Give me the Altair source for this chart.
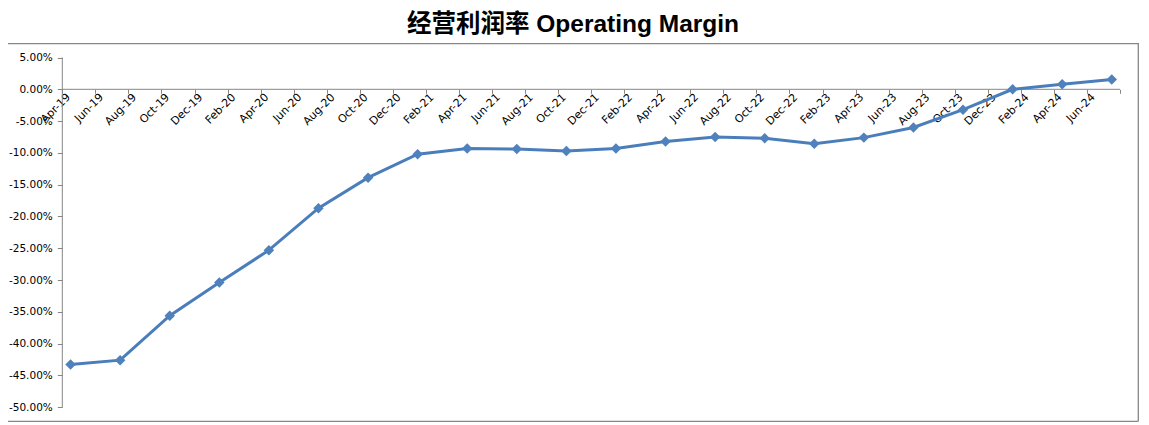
import json
import altair as alt
import pandas as pd

# ---------------- data ----------------
title_text = "经营利润率 Operating Margin"

periods = ["2019-04", "2019-07", "2019-10", "2020-01", "2020-04", "2020-07",
           "2020-10", "2021-01", "2021-04", "2021-07", "2021-10", "2022-01",
           "2022-04", "2022-07", "2022-10", "2023-01", "2023-04", "2023-07",
           "2023-10", "2024-01", "2024-04", "2024-07"]

margin_pct = [-43.3, -42.6, -35.6, -30.4, -25.3, -18.7,
              -13.9, -10.2, -9.3, -9.4, -9.7, -9.3,
              -8.2, -7.5, -7.7, -8.55, -7.6, -6.0,
              -3.2, 0.0, 0.8, 1.55]

tick_labels = ["Apr-19", "Jun-19", "Aug-19", "Oct-19", "Dec-19", "Feb-20",
               "Apr-20", "Jun-20", "Aug-20", "Oct-20", "Dec-20", "Feb-21",
               "Apr-21", "Jun-21", "Aug-21", "Oct-21", "Dec-21", "Feb-22",
               "Apr-22", "Jun-22", "Aug-22", "Oct-22", "Dec-22", "Feb-23",
               "Apr-23", "Jun-23", "Aug-23", "Oct-23", "Dec-23", "Feb-24",
               "Apr-24", "Jun-24", ""]

y_ticks = [5, 0, -5, -10, -15, -20, -25, -30, -35, -40, -45, -50]

# month index relative to Apr-2019, points sit in the middle of their month
def month_index(p):
    y, m = p.split("-")
    return (int(y) - 2019) * 12 + (int(m) - 4) + 0.5

df = pd.DataFrame({
    "period": periods,
    "m": [month_index(p) for p in periods],
    "margin": margin_pct,
})

# ---------------- layout ----------------
PAD_L = 3
W, H = 1128, 379
px_per_month = 16.527
x0 = 62.3 - 8 - PAD_L          # pixel of Apr-19 tick inside the view
px_per_pct = 6.358
y0 = 46.3                      # pixel of 0% inside the view

x_dom = [-x0 / px_per_month, (W - x0) / px_per_month]
y_dom = [-(H - y0) / px_per_pct, y0 / px_per_pct]

GRAY = "#868686"
LBL_FONT = "DejaVu Sans"

xs = alt.Scale(domain=x_dom, nice=False, zero=False)
ys = alt.Scale(domain=y_dom, nice=False, zero=False)

label_js = json.dumps(tick_labels)
x_axis = alt.Axis(
    orient="bottom", offset=-(H - y0), values=list(range(0, 65, 2)),
    labelExpr=f"{label_js}[round(datum.value/2)] || ''",
    labelAngle=-45, labelAlign="right", labelBaseline="middle",
    labelOffset=6, labelPadding=2, labelOverlap=False, labelBound=False,
    labelFlush=False, tickSize=4, tickColor=GRAY, tickWidth=1,
    domain=False, grid=False, title=None,
    labelFont=LBL_FONT, labelFontSize=11, labelColor="#000000",
)
y_axis = alt.Axis(
    orient="left", offset=-x0, values=y_ticks,
    labelExpr="replace(format(datum.value, '.2f'), '\u2212', '-') + '%'",
    tickSize=5, tickColor=GRAY, tickWidth=1, labelPadding=5,
    domain=False, grid=False, title=None, labelOverlap=False,
    labelFont=LBL_FONT, labelFontSize=10.5, labelColor="#000000",
)

one = pd.DataFrame({"k": [0]})

x_line = alt.Chart(one).mark_rule(color=GRAY, strokeWidth=1).encode(
    x=alt.X(datum=0, type="quantitative", scale=xs, axis=x_axis),
    x2=alt.X2(datum=64),
    y=alt.Y(datum=0, type="quantitative", scale=ys, axis=y_axis),
)
y_line = alt.Chart(one).mark_rule(color=GRAY, strokeWidth=1).encode(
    x=alt.X(datum=0, type="quantitative", scale=xs, axis=x_axis),
    y=alt.Y(datum=-50, type="quantitative", scale=ys, axis=y_axis),
    y2=alt.Y2(datum=5),
)

frame_top = alt.Chart(one).mark_rule(color=GRAY, strokeWidth=1.3).encode(
    x=alt.value(-PAD_L), x2=alt.value(W - 0.7), y=alt.value(0.7))
frame_right = alt.Chart(one).mark_rule(color=GRAY, strokeWidth=1.3).encode(
    x=alt.value(W - 0.7), y=alt.value(0), y2=alt.value(H - 0.7))
frame_bottom = alt.Chart(one).mark_rule(color=GRAY, strokeWidth=1.3).encode(
    x=alt.value(-PAD_L), x2=alt.value(W - 0.7), y=alt.value(H - 0.7))

line = alt.Chart(df).mark_line(color="#4A7EBB", strokeWidth=3).encode(
    x=alt.X("m:Q", scale=xs, axis=x_axis),
    y=alt.Y("margin:Q", scale=ys, axis=y_axis),
    order="m:Q",
)
points = alt.Chart(df).mark_point(shape="diamond", filled=True, size=110,
                                  color="#4F81BD", opacity=1).encode(
    x=alt.X("m:Q", scale=xs, axis=x_axis),
    y=alt.Y("margin:Q", scale=ys, axis=y_axis),
)

chart = alt.layer(
    frame_top, frame_right, frame_bottom, x_line, y_line, line, points
).properties(
    width=W, height=H,
    title=alt.TitleParams(
        text=title_text, font="Liberation Sans, Noto Sans CJK SC",
        fontSize=24.5, fontWeight="bold", color="#000000",
        anchor="middle", offset=5, dx=-2,
    ),
    autosize=alt.AutoSizeParams(type="none"),
    padding={"left": PAD_L, "top": 35, "right": 2, "bottom": 2},
).configure_view(stroke=None)

chart.save("out.html", embed_options={"renderer": "svg", "actions": False})
